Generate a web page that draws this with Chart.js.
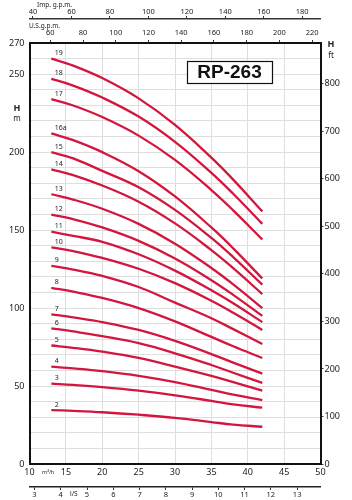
<!DOCTYPE html>
<html>
<head>
<meta charset="utf-8">
<title>RP-263</title>
<script src="https://cdn.jsdelivr.net/npm/chart.js@4.4.1/dist/chart.umd.min.js"></script>
<style>
  html, body { margin: 0; padding: 0; background: #fff; }
  #wrap { width: 352px; height: 500px; }
</style>
</head>
<body>
<div id="wrap"><canvas id="c" width="352" height="500"></canvas></div>
<script>
/* ---------- data ---------- */

// flow points (m3/h) where each head curve was read
const flow = [13, 16, 20, 25, 30, 35, 38, 42];

// head (m) per stage count, same order as flow
const h19  = [260, 255.5, 247.5, 234.5, 217.5, 196.5, 182.4, 162];
const h18  = [247, 242.7, 235, 222.8, 206.6, 186.7, 173.3, 154];
const h17  = [234, 229.9, 222.5, 210.6, 195, 175.7, 162.7, 144];
const h16a = [212, 207.7, 200, 187.8, 171.6, 151.7, 138.3, 119];
const h15  = [200, 196, 188, 177.5, 163, 145, 132.7, 115];
const h14  = [189, 185.3, 178.6, 168.2, 154.3, 137.2, 125.6, 109];
const h13  = [173, 169.6, 163.7, 154, 141.3, 125.7, 115.2, 100];
const h12  = [160, 157, 151.7, 143.1, 131.8, 117.9, 108.5, 95];
const h11  = [149, 146.3, 142.5, 134.5, 124, 111.4, 103.1, 91];
const h10  = [139, 136.6, 132.2, 125.2, 116, 104.7, 97, 86];
const h9   = [127, 124.7, 120.6, 113.5, 103.5, 93.5, 86.5, 77];
const h8   = [113, 110.5, 106.5, 100, 91.5, 81.5, 75.5, 68];
const h7   = [96, 94, 91, 86, 79, 70.5, 65, 58];
const h6   = [87, 85, 82, 77.5, 71, 63.5, 58.5, 52];
const h5   = [76, 74.5, 72, 68, 62.5, 56.5, 52.5, 47];
const h4   = [62.4, 61.3, 59.5, 56.5, 52.5, 47.5, 44.5, 41];
const h3   = [51.5, 50.7, 49.3, 47, 44, 40.5, 38.3, 36.1];
const h2   = [34.6, 34.1, 33.2, 31.6, 29.6, 26.9, 25.3, 23.9];

const stageLabels = ['19', '18', '17', '16a', '15', '14', '13', '12', '11', '10', '9', '8', '7', '6', '5', '4', '3', '2'];
const stageHeads  = [h19, h18, h17, h16a, h15, h14, h13, h12, h11, h10, h9, h8, h7, h6, h5, h4, h3, h2];

// axis ticks
const flowTicks  = [10, 15, 20, 25, 30, 35, 40, 45, 50];      // m3/h
const headLabels = [0, 50, 100, 150, 200, 250, 270];          // m (labelled)
const feetTicks  = [0, 100, 200, 300, 400, 500, 600, 700, 800];
const usTicks    = [60, 80, 100, 120, 140, 160, 180, 200, 220];
const impTicks   = [40, 60, 80, 100, 120, 140, 160, 180];
const lsTicks    = [3, 4, 5, 6, 7, 8, 9, 10, 11, 12, 13];

/* ---------- look ---------- */

const RED = '#d3163d';
const GRID = '#dedede';
const INK = '#222';
const FONT = '"Noto Sans", "DejaVu Sans", sans-serif';

// the secondary scales on the sheet are not quite aligned with m3/h,
// so each gets its own span matching where its labels sit
const US_MIN = 47.3, US_MAX = 225.1;
const IMP_MIN = 38.2, IMP_MAX = 189.5;
const LS_MIN = 2.81, LS_MAX = 13.89;
const FT_MAX = 270 * 3.2808;

function fixedTicks(list) {
  return (scale) => { scale.ticks = list.map((v) => ({ value: v })); };
}
function fixHeight(h) { return (scale) => { scale.height = h; }; }
function fixWidth(w) { return (scale) => { scale.width = w; }; }

/* ---------- free text: units, stage numbers, model box ---------- */

const sheetText = {
  id: 'sheetText',
  afterDraw(chart) {
    const { ctx, scales } = chart;
    ctx.save();
    ctx.fillStyle = INK;
    ctx.textBaseline = 'middle';

    // stage numbers at the start of each curve
    ctx.font = `7px ${FONT}`;
    ctx.textAlign = 'left';
    stageHeads.forEach((h, i) => {
      const px = scales.x.getPixelForValue(flow[0]);
      const py = scales.y.getPixelForValue(h[0]);
      ctx.fillText(stageLabels[i], px + 3.5, py - 5.5);
    });

    // unit captions
    ctx.font = `6.5px ${FONT}`;
    ctx.fillText('Imp. g.p.m.', 37, 5);
    ctx.fillText('U.S.g.p.m.', 29, 26.5);
    ctx.font = `5.5px ${FONT}`;
    ctx.fillText('m\u00B3/h', 42, 472);
    ctx.font = `6.5px ${FONT}`;
    ctx.fillText('l/S', 70, 494.5);

    ctx.textAlign = 'center';
    ctx.font = `bold 9px ${FONT}`;
    ctx.fillText('H', 17, 108);
    ctx.fillText('H', 331, 44.5);
    ctx.font = `8px ${FONT}`;
    ctx.fillText('m', 17, 119);
    ctx.fillText('ft', 331, 55.5);

    // model box
    ctx.fillStyle = '#fff';
    ctx.fillRect(187, 61, 85, 22);
    ctx.strokeStyle = '#111';
    ctx.lineWidth = 1.2;
    ctx.strokeRect(187.5, 61.5, 85, 22);
    ctx.fillStyle = '#111';
    ctx.font = 'bold 19px "Liberation Sans", Arial, sans-serif';
    ctx.fillText('RP-263', 229.5, 73);
    ctx.restore();
  },
};

/* ---------- chart ---------- */

Chart.defaults.font.family = FONT;
Chart.defaults.color = INK;

const datasets = stageHeads.map((h, i) => ({
  label: stageLabels[i],
  data: flow.map((q, k) => ({ x: q, y: h[k] })),
  borderColor: RED,
  borderWidth: 2.3,
  pointRadius: 0,
  tension: 0.4,
  xAxisID: 'x',
  yAxisID: 'y',
}));

new Chart(document.getElementById('c'), {
  type: 'line',
  data: { datasets },
  options: {
    responsive: false,
    animation: false,
    devicePixelRatio: 1,
    layout: { padding: 0 },
    plugins: { legend: { display: false }, tooltip: { enabled: false } },
    scales: {
      x: {
        type: 'linear', position: 'bottom', min: 10, max: 50,
        afterBuildTicks: fixedTicks(flowTicks),
        afterFit: fixHeight(23),
        grid: { color: GRID, drawTicks: false },
        border: { color: '#111', width: 2 },
        ticks: { font: { size: 9 }, padding: 3, maxRotation: 0 },
      },
      ls: {
        type: 'linear', axis: 'x', position: 'bottom', min: LS_MIN, max: LS_MAX,
        afterBuildTicks: fixedTicks(lsTicks),
        afterFit: fixHeight(13),
        grid: { drawOnChartArea: false, color: '#333', tickLength: 3 },
        border: { color: '#222', width: 1.5 },
        ticks: { font: { size: 7.5 }, padding: 0, maxRotation: 0 },
      },
      us: {
        type: 'linear', axis: 'x', position: 'top', min: US_MIN, max: US_MAX,
        afterBuildTicks: fixedTicks(usTicks),
        afterFit: fixHeight(24),
        grid: { drawOnChartArea: false, color: '#333', tickLength: 3 },
        border: { color: '#111', width: 2 },
        ticks: { font: { size: 7.5 }, padding: 3, maxRotation: 0 },
      },
      imp: {
        type: 'linear', axis: 'x', position: 'top', min: IMP_MIN, max: IMP_MAX,
        afterBuildTicks: fixedTicks(impTicks),
        afterFit: fixHeight(19),
        grid: { drawOnChartArea: false, color: '#333', tickLength: 3 },
        border: { color: '#333', width: 1.5 },
        ticks: { font: { size: 7.5 }, padding: 0, maxRotation: 0 },
      },
      y: {
        type: 'linear', position: 'left', min: 0, max: 270,
        afterBuildTicks: (s) => {
          const t = [];
          for (let v = 0; v <= 270; v += 10) t.push({ value: v });
          s.ticks = t;
        },
        afterFit: fixWidth(29.5),
        grid: { color: GRID, drawTicks: false },
        border: { color: '#111', width: 2 },
        ticks: {
          font: { size: 9 }, padding: 5,
          callback: (v) => (headLabels.includes(v) ? String(v) : ''),
        },
      },
      ft: {
        type: 'linear', axis: 'y', position: 'right', min: 0, max: FT_MAX,
        afterBuildTicks: fixedTicks(feetTicks),
        afterFit: fixWidth(31.5),
        grid: { drawOnChartArea: false, color: '#444', tickLength: 3 },
        border: { color: '#111', width: 2 },
        ticks: { font: { size: 9 }, padding: 1 },
      },
    },
  },
  plugins: [sheetText],
});
</script>
</body>
</html>
